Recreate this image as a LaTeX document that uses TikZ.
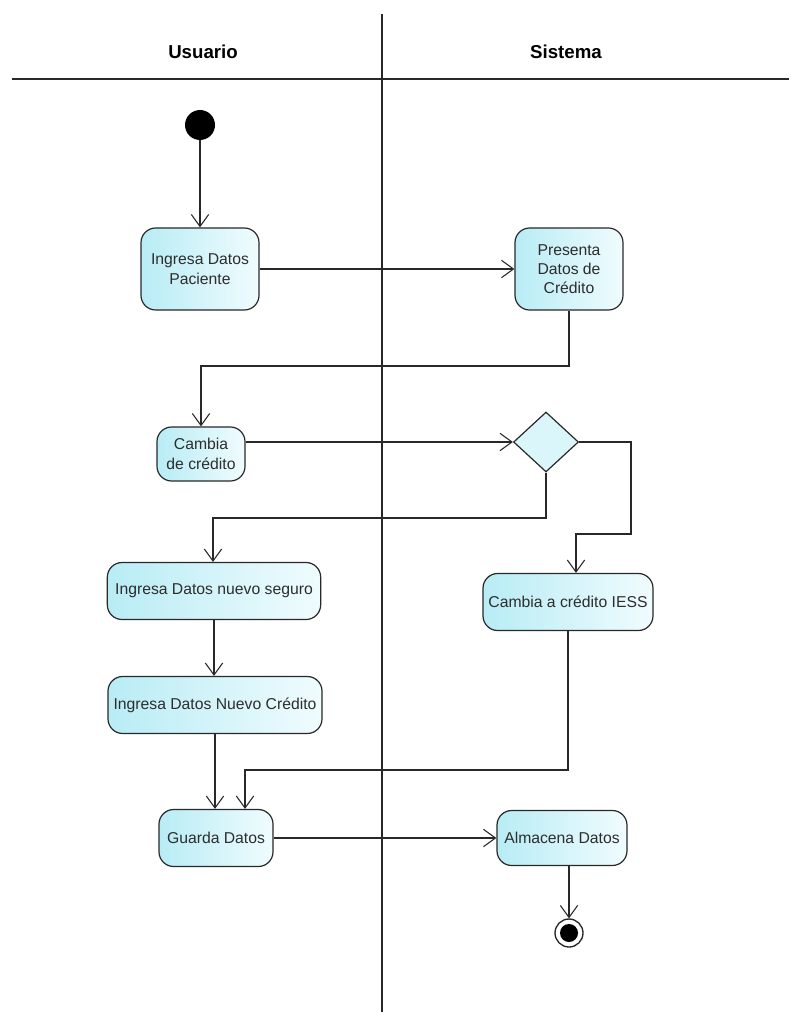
\documentclass[tikz,border=0pt]{standalone}
\usepackage{fontspec}
\setmainfont{Liberation Sans}
\usetikzlibrary{arrows.meta,shapes.geometric}
\definecolor{vpc}{RGB}{184,236,245}
\definecolor{vpl}{RGB}{240,252,254}
\definecolor{ink}{RGB}{40,40,40}
\definecolor{txt}{RGB}{45,45,45}
\begin{document}
\begin{tikzpicture}[x=0.75pt,y=-0.75pt,
  act/.style={draw=ink, line width=0.9pt, rounded corners=11pt, left color=vpc, right color=vpl,
    align=center, font=\fontsize{11.8}{14.5}\selectfont, text=txt, inner sep=0pt},
  flow/.style={draw=ink, line width=0.8pt, -{Straight Barb[length=9pt,width=13pt]}},
  lane/.style={draw=ink, line width=0.9pt},
  head/.style={font=\bfseries\fontsize{14}{16}\selectfont, text=black, inner sep=0pt}]
\useasboundingbox (0,0) rectangle (791,1016);
% swimlanes
\draw[lane] (12,79) -- (789,79);
\draw[lane] (382,14) -- (382,1012);
\node[head] (usuario) at (203,52) {Usuario};
\node[head] (sistema) at (566,52) {Sistema};
% nodes
\node[circle, fill=black, minimum size=22.5pt, inner sep=0pt] (start) at (200,125) {};
\node[act, minimum width=88.5pt, minimum height=61.5pt] (ingresa) at (200,269) {Ingresa Datos\\Paciente};
\node[act, minimum width=81pt, minimum height=61.5pt] (presenta) at (569,269) {Presenta\\Datos de\\Crédito};
\node[act, minimum width=66pt, minimum height=40.5pt] (cambia) at (201,454) {Cambia\\de crédito};
\node[diamond, draw=ink, line width=0.9pt, fill=vpl!60!vpc, minimum width=48.75pt, minimum height=45pt, inner sep=0pt] (dec) at (546,442) {};
\node[act, minimum width=160pt, minimum height=42.75pt] (seguro) at (214,591) {Ingresa Datos nuevo seguro};
\node[act, minimum width=160.5pt, minimum height=42.75pt] (nuevo) at (215,705) {Ingresa Datos Nuevo Crédito};
\node[act, minimum width=127.5pt, minimum height=42.75pt] (iess) at (568,602) {Cambia a crédito IESS};
\node[act, minimum width=85.5pt, minimum height=42.75pt] (guarda) at (216,838) {Guarda Datos};
\node[act, minimum width=97.5pt, minimum height=41.25pt] (almacena) at (562,838) {Almacena Datos};
\node[circle, draw=ink, line width=1pt, fill=white, minimum size=21pt, inner sep=0pt] (final) at (569,933) {};
\node[circle, fill=black, minimum size=13.5pt, inner sep=0pt] (finalin) at (final) {};
% junction coordinates
\coordinate (j1) at (201,366);
\coordinate (j2) at (213,518);
\coordinate (j3) at (631,534);
\coordinate (j4) at (576,534);
\coordinate (j5) at (245,770);
% connectors
\draw[flow] (start) -- (ingresa);
\draw[flow] (ingresa.east) -- (ingresa.east -| presenta.west);
\draw[flow] (presenta.south) |- (j1) -- (cambia.north);
\draw[flow] (cambia.east |- dec.west) -- (dec.west);
\draw[flow] (dec.south) |- (j2) -- (j2 |- seguro.north);
\draw[flow] (dec.east) -| (j3) -- (j4) -- (j4 |- iess.north);
\draw[flow] (seguro.south) -- (nuevo.north -| seguro.south);
\draw[flow] (nuevo.south) -- (nuevo.south |- guarda.north);
\draw[flow] (iess.south) |- (j5) -- (j5 |- guarda.north);
\draw[flow] (guarda.east) -- (almacena.west);
\draw[flow] (final.north |- almacena.south) -- (final.north);
\end{tikzpicture}
\end{document}
